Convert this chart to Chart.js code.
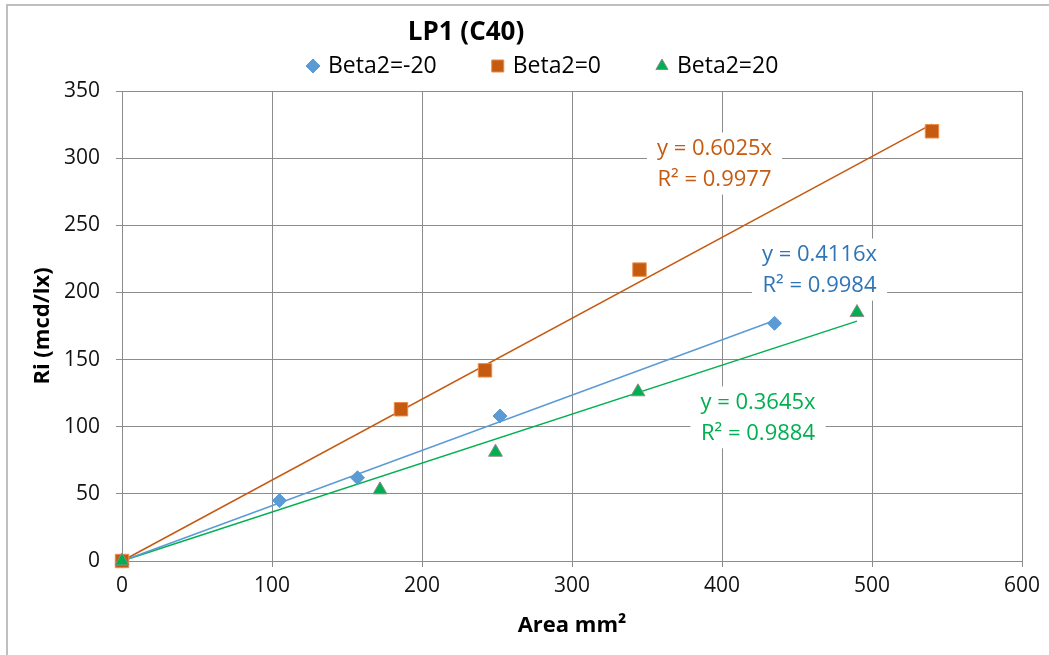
<!DOCTYPE html>
<html>
<head>
<meta charset="utf-8">
<script src="https://cdn.jsdelivr.net/npm/chart.js@4.4.1/dist/chart.umd.min.js"></script>
<style>
  html, body { margin: 0; padding: 0; background: #fff; }
  #wrap { width: 1049px; height: 655px; position: relative; }
</style>
</head>
<body>
<div id="wrap"><canvas id="c" width="1049" height="655"></canvas></div>
<script>
// ---- Data ----
const seriesNames = ['Beta2=-20', 'Beta2=0', 'Beta2=20'];
const areaNeg20 = [0, 105, 157, 252, 435];
const riNeg20   = [0, 45, 62, 108, 177];
const area0     = [0, 186, 242, 345, 540];
const ri0       = [0, 113, 142, 217, 320];
const area20    = [0, 172, 249, 344, 490];
const ri20      = [0, 53, 81, 126, 185];
// Trendline coefficients (as printed on the chart)
const slopes    = [0.4116, 0.6025, 0.3645];
const r2Values  = [0.9984, 0.9977, 0.9884];
// Trendline label anchors (data coordinates)
const labelX    = [465, 395, 424];
const labelY    = [217, 296, 107];
const xTicks = { min: 0, max: 600, step: 100 };
const yTicks = { min: 0, max: 350, step: 50 };

const markerColors = ['#5B9BD5', '#C55A11', '#00B050'];
const markerBorders = ['#5B9BD5', '#F08A45', '#8C8C8C'];
const lineColors = ['#5B9BD5', '#C55A11', '#00B050'];
const labelColors = ['#2E75B6', '#C55A11', '#00B050'];
const pointStyles = ['rectRot', 'rect', 'triangle'];
const pointRadii = [7, 9.5, 8];

const FONT = "'Open Sans', 'Liberation Sans', sans-serif";

function pts(xs, ys) { return xs.map((x, i) => ({ x: x, y: ys[i] })); }
const allX = [areaNeg20, area0, area20];
const allY = [riNeg20, ri0, ri20];

const datasets = [];
// trendlines first (drawn beneath markers)
for (let i = 0; i < 3; i++) {
  const xmax = Math.max.apply(null, allX[i]);
  datasets.push({
    type: 'line',
    label: 'trend' + i,
    data: [{ x: 0, y: 0 }, { x: xmax, y: slopes[i] * xmax }],
    borderColor: lineColors[i],
    borderWidth: 1.5,
    pointRadius: 0,
    fill: false,
    clip: false,
    order: 10
  });
}
for (let i = 0; i < 3; i++) {
  datasets.push({
    type: 'scatter',
    label: seriesNames[i],
    data: pts(allX[i], allY[i]),
    pointStyle: pointStyles[i],
    pointRadius: pointRadii[i],
    pointHoverRadius: pointRadii[i],
    backgroundColor: markerColors[i],
    borderColor: markerBorders[i],
    borderWidth: 1,
    clip: false,
    order: 3 - i
  });
}

const decor = {
  id: 'decor',
  beforeDraw(chart) {
    const ctx = chart.ctx;
    ctx.save();
    ctx.fillStyle = '#fff';
    ctx.fillRect(0, 0, chart.width, chart.height);
    ctx.strokeStyle = '#BFBFBF';
    ctx.lineWidth = 2;
    ctx.beginPath();
    ctx.moveTo(7, chart.height);
    ctx.lineTo(7, 5);
    ctx.lineTo(chart.width, 5);
    ctx.stroke();
    ctx.restore();
  },
  afterDatasetsDraw(chart) {
    const ctx = chart.ctx;
    const xs = chart.scales.x, ys = chart.scales.y;
    ctx.save();
    // trendline labels
    ctx.font = '22px ' + FONT;
    ctx.textAlign = 'center';
    ctx.textBaseline = 'middle';
    for (let i = 0; i < 3; i++) {
      const cx = xs.getPixelForValue(labelX[i]);
      const cy = ys.getPixelForValue(labelY[i]);
      const l1 = 'y = ' + slopes[i] + 'x';
      const l2 = 'R² = ' + r2Values[i];
      const w = Math.max(ctx.measureText(l1).width, ctx.measureText(l2).width) + 20;
      ctx.fillStyle = '#fff';
      ctx.fillRect(cx - w / 2, cy - 31, w, 62);
      ctx.fillStyle = labelColors[i];
      ctx.fillText(l1, cx, cy - 15);
      ctx.fillText(l2, cx, cy + 16);
    }
    // title
    ctx.fillStyle = '#000';
    ctx.font = 'bold 26px ' + FONT;
    ctx.fillText('LP1 (C40)', 466, 33);
    // legend
    ctx.font = '23px ' + FONT;
    ctx.textAlign = 'left';
    let x = 305;
    const ly = 66;
    for (let i = 0; i < 3; i++) {
      ctx.fillStyle = markerColors[i];
      ctx.strokeStyle = markerBorders[i];
      ctx.lineWidth = 1;
      Chart.helpers.drawPoint(ctx, {
        pointStyle: pointStyles[i], radius: i === 1 ? 8.5 : 7, rotation: 0, borderWidth: 1
      }, x + 8, ly);
      ctx.fillStyle = '#000';
      ctx.fillText(seriesNames[i], x + 23, ly);
      x = x + 23 + ctx.measureText(seriesNames[i]).width + 53;
    }
    ctx.restore();
  }
};

new Chart(document.getElementById('c'), {
  data: { datasets: datasets },
  options: {
    responsive: false,
    animation: false,
    events: [],
    layout: { padding: { left: 0, top: 91, right: 27, bottom: 0 } },
    plugins: { legend: { display: false }, title: { display: false }, tooltip: { enabled: false } },
    scales: {
      x: {
        type: 'linear',
        min: xTicks.min, max: xTicks.max,
        afterFit(s) { s.height = 94; },
        ticks: { stepSize: xTicks.step, color: '#111', font: { family: FONT, size: 21 }, padding: 6, maxRotation: 0 },
        grid: { color: '#8C8C8C', lineWidth: 1, tickLength: 6 },
        border: { color: '#8C8C8C', width: 1 },
        title: { display: true, text: 'Area mm²', color: '#000', font: { family: FONT, size: 22, weight: 'bold' }, padding: { top: 0, bottom: 16 } }
      },
      y: {
        type: 'linear',
        min: yTicks.min, max: yTicks.max,
        afterFit(s) { s.width = 122; },
        ticks: { stepSize: yTicks.step, color: '#111', font: { family: FONT, size: 21 }, padding: 16 },
        grid: { color: '#8C8C8C', lineWidth: 1, tickLength: 6 },
        border: { color: '#8C8C8C', width: 1 },
        title: { display: true, text: 'Ri (mcd/lx)', color: '#000', font: { family: FONT, size: 22, weight: 'bold' }, padding: { top: 30, bottom: 0 } }
      }
    }
  },
  plugins: [decor]
});
</script>
</body>
</html>
